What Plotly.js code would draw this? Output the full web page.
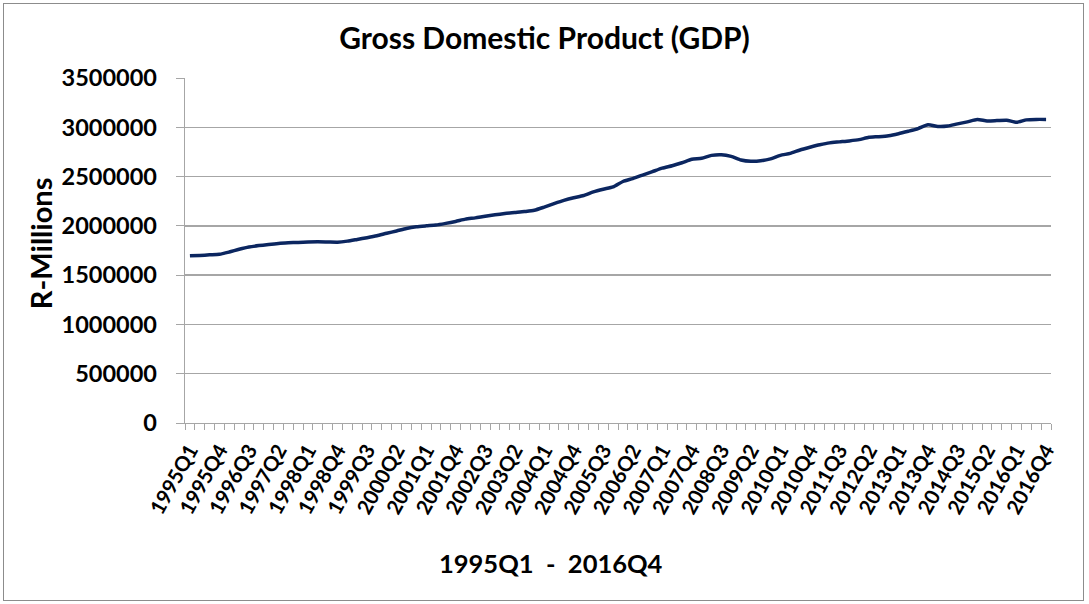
<!DOCTYPE html>
<html>
<head>
<meta charset="utf-8">
<script src="https://cdn.plot.ly/plotly-3.0.1.min.js"></script>
<style>
  html, body { margin: 0; padding: 0; background: #fff; }
  #wrap { position: relative; width: 1089px; height: 604px; }
  #chart { width: 1089px; height: 604px; }
  #frame { position: absolute; left: 3px; top: 3px; width: 1079px; height: 596px;
           border: 1px solid #8c8c8c; pointer-events: none; }
</style>
</head>
<body>
<div id="wrap"><div id="chart"></div><div id="frame"></div></div>
<script>
// Quarters 1995Q1 .. 2016Q4
const years = [1995,1996,1997,1998,1999,2000,2001,2002,2003,2004,2005,2006,2007,2008,2009,2010,2011,2012,2013,2014,2015,2016];
const quarterNames = ["Q1","Q2","Q3","Q4"];
const quarters = [];
years.forEach(y => quarterNames.forEach(q => quarters.push(y + q)));

// GDP, R-Millions
const gdp = [
  1696000, 1700000, 1706000, 1712000, 1735000, 1762000, 1785000, 1800000,
  1812000, 1822000, 1828000, 1832000, 1836000, 1838000, 1836000, 1834000,
  1845000, 1862000, 1880000, 1900000, 1925000, 1948000, 1973000, 1990000,
  2000000, 2008000, 2025000, 2045000, 2068000, 2081000, 2098000, 2112000,
  2125000, 2135000, 2145000, 2158000, 2190000, 2225000, 2258000, 2285000,
  2308000, 2345000, 2372000, 2395000, 2450000, 2480000, 2515000, 2550000,
  2585000, 2610000, 2640000, 2675000, 2685000, 2715000, 2722000, 2705000,
  2668000, 2655000, 2660000, 2680000, 2715000, 2735000, 2770000, 2797000,
  2822000, 2842000, 2852000, 2862000, 2875000, 2898000, 2905000, 2915000,
  2935000, 2960000, 2987000, 3025000, 3008000, 3012000, 3035000, 3055000,
  3078000, 3065000, 3068000, 3072000, 3050000, 3075000, 3080000, 3080000
];

const idx = quarters.map((_, i) => i);
const labelIdx = idx.filter(i => i % 3 === 0);
const labelText = labelIdx.map(i => quarters[i]);

const yTicks = [0, 500000, 1000000, 1500000, 2000000, 2500000, 3000000, 3500000];

const FONT = "Lato, 'Open Sans', sans-serif";

const trace = {
  x: idx,
  y: gdp,
  text: quarters,
  type: "scatter",
  mode: "lines",
  line: { color: "#0b2660", width: 3.5, shape: "spline", smoothing: 0.6 },
  hoverinfo: "text+y"
};

const layout = {
  width: 1089,
  height: 604,
  margin: { l: 185, r: 38, t: 78, b: 181 },
  paper_bgcolor: "#ffffff",
  plot_bgcolor: "#ffffff",
  showlegend: false,
  font: { family: FONT, color: "#000" },
  title: {
    text: "<b>Gross Domestic Product (GDP)</b>",
    font: { family: FONT, size: 30, color: "#000" },
    xref: "container", x: 0.5, xanchor: "center",
    yref: "container", y: 0.936, yanchor: "middle"
  },
  xaxis: {
    range: [-0.5, 87.5],
    tickmode: "array",
    tickvals: labelIdx,
    ticktext: labelText.map(t => "<b>" + t + "</b>"),
    tickangle: -61,
    tickfont: { family: FONT, size: 20.5, color: "#000" },
    ticks: "",
    showgrid: false,
    zeroline: false,
    showline: true,
    linecolor: "#a6a6a6",
    linewidth: 1.3,
    ticklabelstandoff: 6,
    minor: { tick0: -0.5, dtick: 1, ticks: "outside", ticklen: 6, tickcolor: "#a6a6a6", tickwidth: 1, showgrid: false },
    fixedrange: true
  },
  yaxis: {
    range: [0, 3500000],
    tickmode: "array",
    tickvals: yTicks,
    ticktext: yTicks.map(v => "<b>" + v + "</b>"),
    tickfont: { family: FONT, size: 23.5, color: "#000" },
    ticks: "outside",
    ticklen: 8,
    tickcolor: "#a6a6a6",
    ticklabelstandoff: 14,
    showgrid: true,
    gridcolor: "#a6a6a6",
    gridwidth: 1.3,
    zeroline: false,
    showline: true,
    linecolor: "#a6a6a6",
    linewidth: 1.3,
    fixedrange: true
  },
  annotations: [
    {
      text: "<b>R-Millions</b>",
      xref: "paper", yref: "paper",
      x: (40 - 185) / 866, y: (423 - 243) / 345.3,
      xanchor: "center", yanchor: "middle",
      textangle: -90, showarrow: false,
      font: { family: FONT, size: 29, color: "#000" }
    },
    {
      text: "<b>1995Q1\u00a0\u00a0-\u00a0\u00a02016Q4</b>",
      xref: "paper", yref: "paper",
      x: (551 - 185) / 866, y: (423 - 563) / 345.3,
      xanchor: "center", yanchor: "middle",
      showarrow: false,
      font: { family: FONT, size: 25.5, color: "#000" }
    }
  ]
};

Plotly.newPlot("chart", [trace], layout, { displayModeBar: false, staticPlot: true });
</script>
</body>
</html>
